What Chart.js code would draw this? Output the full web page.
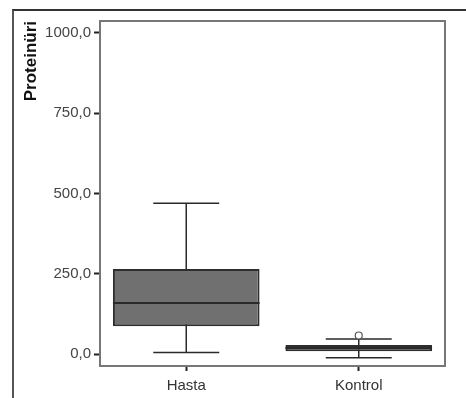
<!DOCTYPE html>
<html>
<head>
<meta charset="utf-8">
<script src="https://cdn.jsdelivr.net/npm/chart.js@4"></script>
<style>
    body { margin: 0; background: #fff; }
    #wrap { position: relative; width: 466px; height: 398px; }
    #frame { position: absolute; left: 12px; top: 9px; right: 0; bottom: 0; border-top: 2px solid #333; border-left: 2px solid #555; }
    canvas { position: absolute; left: 0; top: 0; }
</style>
</head>
<body>
<div id="wrap">
    <div id="frame"></div>
    <canvas id="box-chart" width="466" height="398"></canvas>
</div>
<script>
const categories = ['Hasta', 'Kontrol'];
const lowerWhisker = [5, -11];
const q1 = [87, 9];
const medians = [159, 19];
const q3 = [265, 28];
const upperWhisker = [470, 47];
const outliers = [null, 58];
const yTicks = [0, 250, 500, 750, 1000];

const boxExtras = {
    id: 'boxExtras',
    beforeDatasetsDraw(chart) {
        const ctx = chart.ctx;
        const area = chart.chartArea;
        ctx.save();
        ctx.strokeStyle = '#777';
        ctx.lineWidth = 2;
        ctx.strokeRect(area.left, area.top, area.right - area.left, area.bottom - area.top);

        // whiskers
        const x = chart.scales.x;
        const y = chart.scales.y;
        const bars = chart.getDatasetMeta(0).data;
        ctx.strokeStyle = '#2a2a2a';
        ctx.lineWidth = 1.5;
        categories.forEach(function(cat, i) {
            const cx = x.getPixelForValue(i);
            const half = bars[i].width * 0.225;
            ctx.beginPath();
            ctx.moveTo(cx, y.getPixelForValue(upperWhisker[i]));
            ctx.lineTo(cx, y.getPixelForValue(lowerWhisker[i]));
            ctx.moveTo(cx - half, y.getPixelForValue(upperWhisker[i]));
            ctx.lineTo(cx + half, y.getPixelForValue(upperWhisker[i]));
            ctx.moveTo(cx - half, y.getPixelForValue(lowerWhisker[i]));
            ctx.lineTo(cx + half, y.getPixelForValue(lowerWhisker[i]));
            ctx.stroke();
        });
        ctx.restore();
    },
    afterDatasetsDraw(chart) {
        const ctx = chart.ctx;
        const x = chart.scales.x;
        const y = chart.scales.y;
        const bars = chart.getDatasetMeta(0).data;
        ctx.save();
        ctx.strokeStyle = '#2a2a2a';
        ctx.lineWidth = 2;
        categories.forEach(function(cat, i) {
            const cx = x.getPixelForValue(i);
            const half = bars[i].width / 2;
            const my = y.getPixelForValue(medians[i]);
            ctx.beginPath();
            ctx.moveTo(cx - half, my);
            ctx.lineTo(cx + half, my);
            ctx.stroke();
        });
        ctx.restore();
    }
};

const ctx = document.getElementById('box-chart').getContext('2d');

new Chart(ctx, {
    type: 'bar',
    data: {
        labels: categories,
        datasets: [{
            label: 'Kutu',
            data: categories.map((c, i) => [q1[i], q3[i]]),
            backgroundColor: '#707070',
            borderColor: '#2e2e2e',
            borderWidth: 2,
            borderSkipped: false,
            barPercentage: 0.85,
            categoryPercentage: 1
        }, {
            type: 'line',
            label: 'Aykırı',
            data: outliers,
            showLine: false,
            pointStyle: 'circle',
            pointRadius: 3.5,
            pointBorderWidth: 1.2,
            pointBorderColor: '#555',
            pointBackgroundColor: '#fff'
        }]
    },
    options: {
        responsive: false,
        animation: false,
        devicePixelRatio: 1,
        layout: { padding: { top: 21, right: 21, left: 0, bottom: 0 } },
        plugins: {
            legend: { display: false },
            tooltip: { enabled: false }
        },
        scales: {
            x: {
                offset: true,
                afterFit: function(scale) { scale.height = 32; },
                border: { display: false },
                grid: {
                    offset: false,
                    drawOnChartArea: false,
                    tickLength: 5,
                    tickWidth: 2,
                    tickColor: '#222'
                },
                ticks: {
                    padding: 6,
                    color: '#333',
                    font: { family: 'Liberation Sans', size: 15 }
                }
            },
            y: {
                min: -37,
                max: 1037,
                afterFit: function(scale) { scale.width = 100; },
                afterBuildTicks: function(scale) {
                    scale.ticks = yTicks.map(v => ({ value: v }));
                },
                border: { display: false },
                grid: {
                    drawOnChartArea: false,
                    tickLength: 6,
                    tickWidth: 2,
                    tickColor: '#222'
                },
                ticks: {
                    padding: 3,
                    color: '#444',
                    font: { family: 'Liberation Sans', size: 15 },
                    callback: v => v.toFixed(1).replace('.', ',')
                },
                title: {
                    display: true,
                    text: 'Proteinüri',
                    align: 'end',
                    color: '#111',
                    padding: { top: 21, bottom: 0 },
                    font: { family: 'Liberation Sans', size: 17, weight: 'bold' }
                }
            }
        }
    },
    plugins: [boxExtras]
});
</script>
</body>
</html>
